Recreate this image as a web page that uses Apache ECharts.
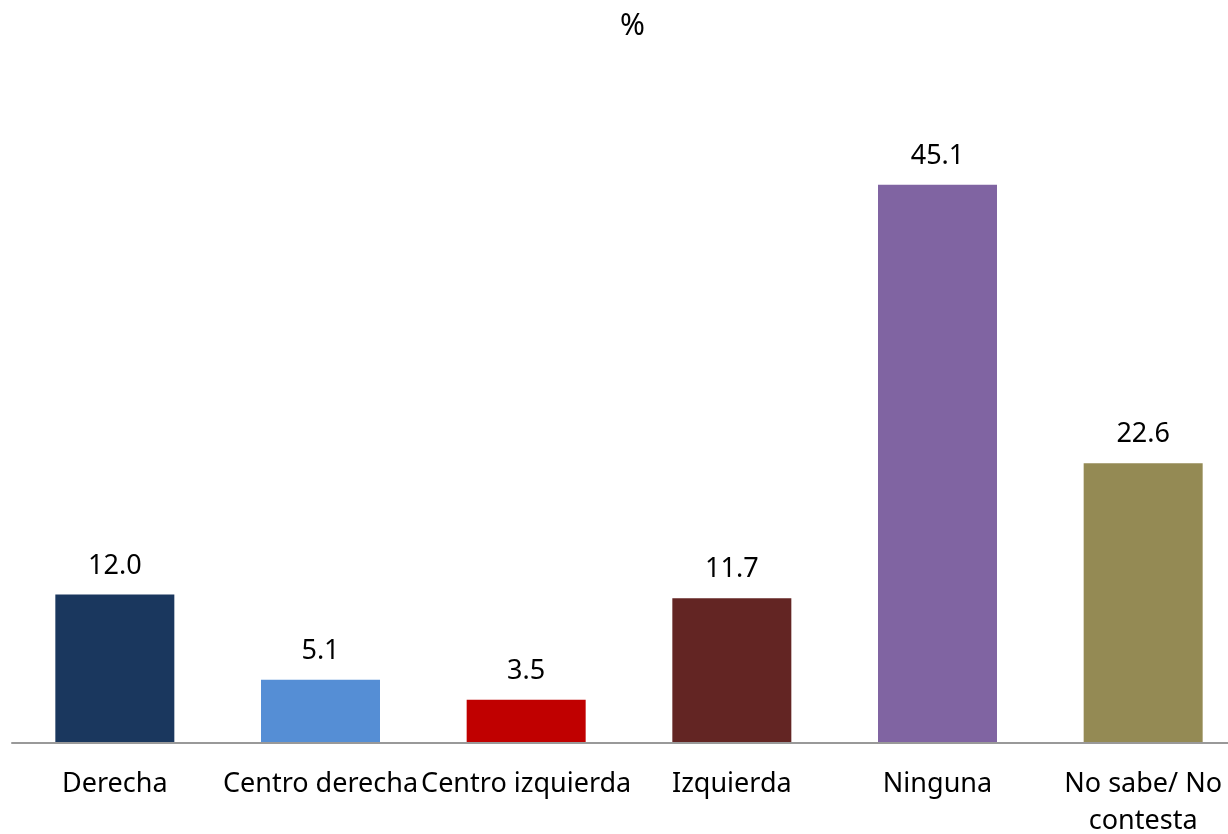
<!DOCTYPE html>
<head>
    <meta charset="UTF-8">
    <title>%</title>
    <script src="https://cdn.jsdelivr.net/npm/echarts@6/dist/echarts.min.js"></script>
</head>
<body style="margin:0;background:#fff;">
<div id="chart" style="height:834px;width:1228px;"></div>
<script type="text/javascript">

    var categories = ['Derecha', 'Centro derecha', 'Centro izquierda', 'Izquierda', 'Ninguna', 'No sabe/ No\ncontesta'];
    var values = [12.0, 5.1, 3.5, 11.7, 45.1, 22.6];
    var colors = ['#1a375e', '#558ed5', '#c00000', '#632523', '#8064a2', '#948a54'];

    var myChart = echarts.init(document.getElementById('chart'));

    var font = '"Noto Sans", "Open Sans", sans-serif';

    myChart.setOption({
        animation: false,
        title: {
            text: '%',
            left: 615,
            top: 6,
            textStyle: {fontSize: 30, fontWeight: 'normal', color: '#000', fontFamily: font}
        },
        grid: {left: 12, width: 1234, top: 124, height: 619, outerBoundsMode: 'none', containLabel: false},
        xAxis: {
            type: 'category',
            data: categories,
            axisLine: {lineStyle: {color: '#999', width: 2}},
            axisTick: {show: false},
            axisLabel: {
                interval: 0,
                margin: 23,
                fontSize: 27,
                lineHeight: 37,
                color: '#000',
                fontFamily: font
            },
            z: 5
        },
        yAxis: {
            type: 'value',
            min: 0,
            max: 50,
            show: false
        },
        series: [{
            type: 'bar',
            barWidth: 119,
            data: values.map(function (v, i) {
                return {value: v, itemStyle: {color: colors[i]}};
            }),
            label: {
                show: true,
                position: 'top',
                distance: 15,
                fontSize: 27,
                color: '#000',
                fontFamily: font,
                formatter: function (p) {
                    return p.value.toFixed(1);
                }
            }
        }]
    });
</script>
</body>
</html>
